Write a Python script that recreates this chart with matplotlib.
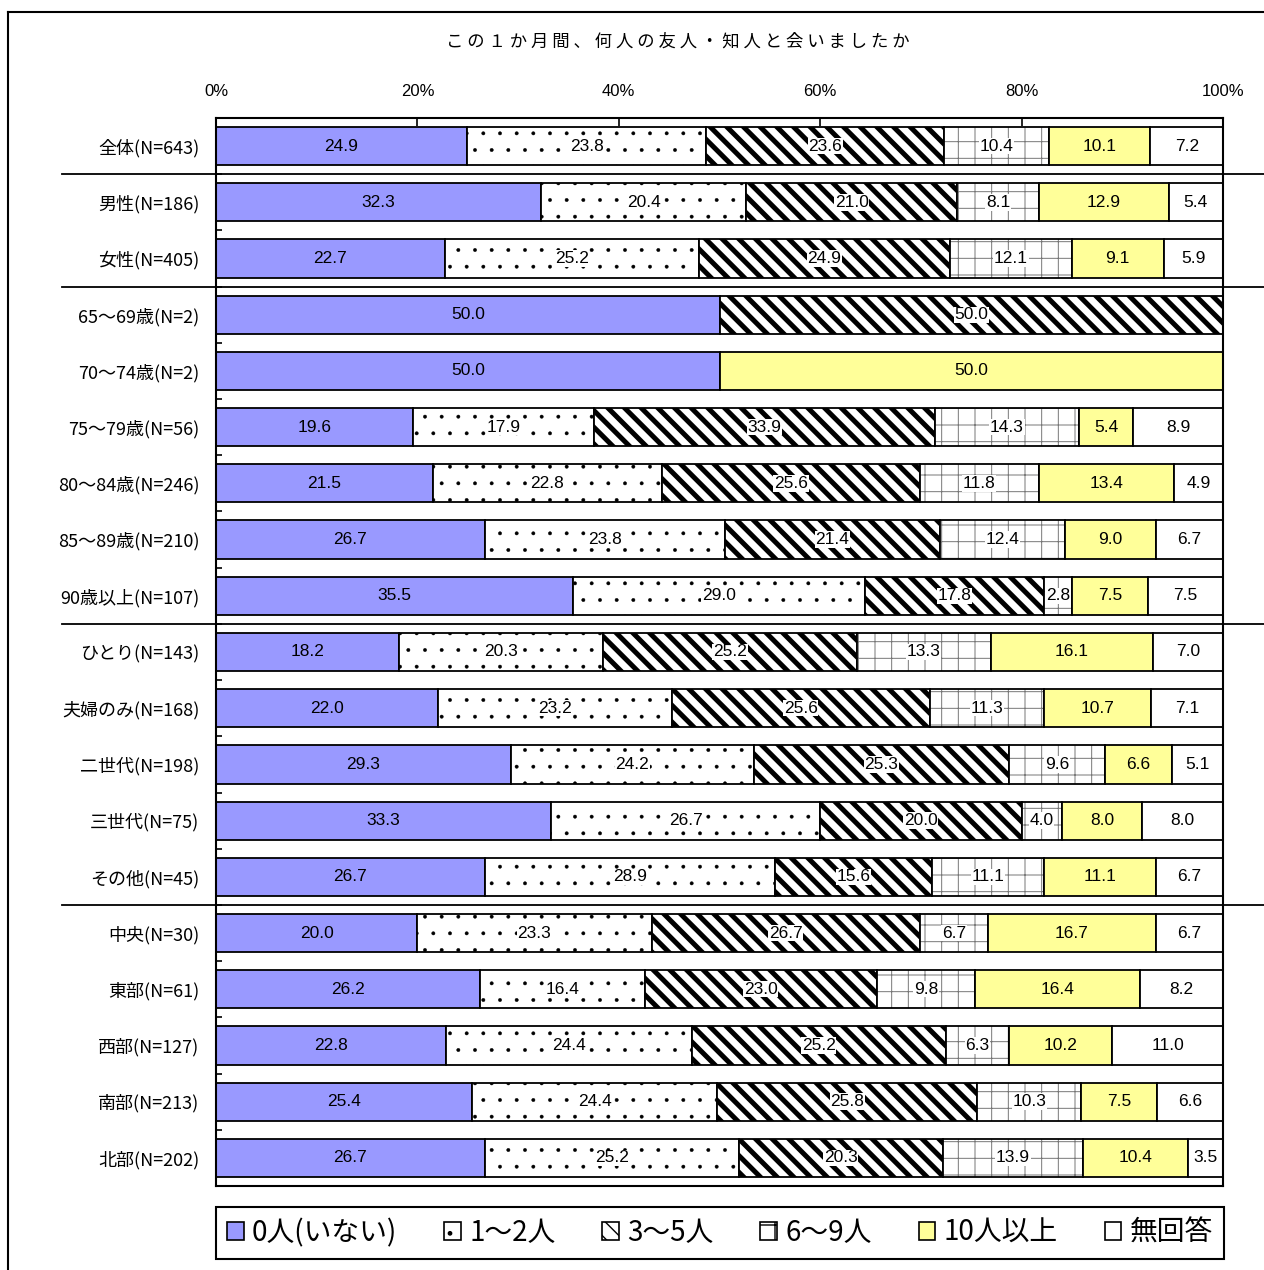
import numpy as np
import matplotlib
matplotlib.use('Agg')
import matplotlib.pyplot as plt
from matplotlib import font_manager
from matplotlib.lines import Line2D
from matplotlib.patches import Patch
from matplotlib.transforms import blended_transform_factory

# データ
categories = ['全体(N=643)', '男性(N=186)', '女性(N=405)',
              '65〜69歳(N=2)', '70〜74歳(N=2)', '75〜79歳(N=56)',
              '80〜84歳(N=246)', '85〜89歳(N=210)', '90歳以上(N=107)',
              'ひとり(N=143)', '夫婦のみ(N=168)', '二世代(N=198)',
              '三世代(N=75)', 'その他(N=45)',
              '中央(N=30)', '東部(N=61)', '西部(N=127)', '南部(N=213)', '北部(N=202)']
series_names = ['0人(いない)', '1〜2人', '3〜5人', '6〜9人', '10人以上', '無回答']
v_0 = [24.9, 32.3, 22.7, 50.0, 50.0, 19.6, 21.5, 26.7, 35.5, 18.2, 22.0, 29.3, 33.3, 26.7, 20.0, 26.2, 22.8, 25.4, 26.7]
v_1_2 = [23.8, 20.4, 25.2, 0.0, 0.0, 17.9, 22.8, 23.8, 29.0, 20.3, 23.2, 24.2, 26.7, 28.9, 23.3, 16.4, 24.4, 24.4, 25.2]
v_3_5 = [23.6, 21.0, 24.9, 50.0, 0.0, 33.9, 25.6, 21.4, 17.8, 25.2, 25.6, 25.3, 20.0, 15.6, 26.7, 23.0, 25.2, 25.8, 20.3]
v_6_9 = [10.4, 8.1, 12.1, 0.0, 0.0, 14.3, 11.8, 12.4, 2.8, 13.3, 11.3, 9.6, 4.0, 11.1, 6.7, 9.8, 6.3, 10.3, 13.9]
v_10 = [10.1, 12.9, 9.1, 0.0, 50.0, 5.4, 13.4, 9.0, 7.5, 16.1, 10.7, 6.6, 8.0, 11.1, 16.7, 16.4, 10.2, 7.5, 10.4]
v_na = [7.2, 5.4, 5.9, 0.0, 0.0, 8.9, 4.9, 6.7, 7.5, 7.0, 7.1, 5.1, 8.0, 6.7, 6.7, 8.2, 11.0, 6.6, 3.5]
group_breaks = [0.5, 2.5, 8.5, 13.5]
title = 'この１か月間、何人の友人・知人と会いましたか'

colors = ['#9999FF', 'white', 'white', 'white', '#FFFF99', 'white']
hatches = [None, '.', '\\\\', '+', None, None]
hatch_lw = [1.0, 0.3, 3.6, 0.7, 1.0, 1.0]
hatch_ec = ['black', 'black', 'black', '#777777', 'black', 'black']

names = {f.name for f in font_manager.fontManager.ttflist}
num_font = 'Liberation Sans Narrow' if 'Liberation Sans Narrow' in names else 'Liberation Sans'
jp = ['Noto Sans CJK JP', 'DejaVu Sans']
plt.rcParams['font.family'] = jp

W, H = 1264, 1270
fig = plt.figure(figsize=(W / 100, H / 100), dpi=100)
ax = fig.add_axes([216 / W, 1 - 1186 / H, (1223 - 216) / W, (1186 - 118) / H])

data = np.array([v_0, v_1_2, v_3_5, v_6_9, v_10, v_na])
pct = data / data.sum(axis=0) * 100
y = np.arange(len(categories))
left = np.zeros(len(categories))
bh = 0.68
for i in range(len(series_names)):
    with plt.rc_context({'hatch.linewidth': hatch_lw[i]}):
        bars = ax.barh(y, pct[i], left=left, height=bh, color=colors[i],
                       hatch=hatches[i], edgecolor=hatch_ec[i], linewidth=0)
    for b in bars:
        if hasattr(b, 'set_hatch_linewidth'):
            b.set_hatch_linewidth(hatch_lw[i])
    ax.barh(y, pct[i], left=left, height=bh, fill=False, edgecolor='black', linewidth=1.3)
    for j in range(len(categories)):
        if data[i, j] > 0:
            bb = dict(facecolor='white', edgecolor='none', pad=0.5) if hatches[i] else None
            ax.text(left[j] + pct[i, j] / 2, y[j], f'{data[i, j]:.1f}', ha='center', va='center',
                    fontsize=12.5, family=num_font, bbox=bb)
    left += pct[i]

ax.set_xlim(0, 100)
ax.set_ylim(len(categories) - 0.5, -0.5)
ax.xaxis.tick_top()
ax.set_xticks([0, 20, 40, 60, 80, 100])
ax.set_xticklabels(['0%', '20%', '40%', '60%', '80%', '100%'], family=num_font, fontsize=12)
ax.tick_params(axis='x', direction='in', length=6, width=1.2, pad=14)
ax.set_yticks(y)
ax.set_yticklabels(categories, fontsize=13)
ax.tick_params(axis='y', which='major', length=0, pad=12)
ax.set_yticks(np.arange(0.5, len(categories) - 0.5), minor=True)
ax.tick_params(axis='y', which='minor', direction='in', length=4, width=1.2)
for s in ax.spines.values():
    s.set_linewidth(1.5)

# グループ区切り線
tr = blended_transform_factory(fig.transFigure, ax.transData)
for g in group_breaks:
    ax.add_line(Line2D([62 / W, 1], [g, g], transform=tr, color='black', linewidth=1.3, clip_on=False))

# 外枠
fig.add_artist(Line2D([8 / W, 8 / W], [0, 1 - 12 / H], color='black', linewidth=1.5))
fig.add_artist(Line2D([8 / W, 1], [1 - 12 / H, 1 - 12 / H], color='black', linewidth=1.5))

fig.text(678 / W, 1 - 42 / H, ' '.join(title), ha='center', va='center', fontsize=12.5)

handles = []
for i in range(len(series_names)):
    p = Patch(facecolor=colors[i], hatch=hatches[i], edgecolor='black', linewidth=1.2)
    handles.append(p)
leg = fig.legend(handles, series_names, loc='center', ncol=6, mode='expand',
                 bbox_to_anchor=(216 / W, 1 - 1260 / H, (1224 - 216) / W, 54 / H),
                 fontsize=20, handlelength=0.6, handleheight=0.6, handletextpad=0.3,
                 columnspacing=1.0, borderaxespad=0, fancybox=False, framealpha=1,
                 edgecolor='black')
leg.get_frame().set_linewidth(1.5)

plt.savefig('out.png', dpi=100)
